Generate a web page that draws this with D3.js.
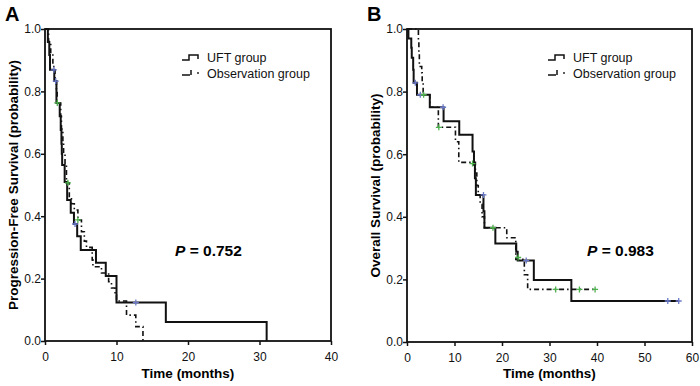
<!DOCTYPE html>
<html>
<head>
<meta charset="utf-8">
<script src="https://cdn.jsdelivr.net/npm/d3@7"></script>
<style>
  body { margin: 0; background: #fff; }
  svg text { font-family: "Liberation Sans", Arial, sans-serif; }
</style>
</head>
<body>
<svg id="chart" width="700" height="386"></svg>
<script>
// step points [time, survival after the step]
var pfsUft = [[0,1],[0.4,0.958],[0.6,0.917],[0.7,0.869],[1.3,0.833],[1.6,0.763],[2.06,0.72],[2.2,0.676],
  [2.3,0.632],[2.35,0.6],[2.4,0.564],[2.75,0.51],[3.1,0.452],[3.6,0.411],[4.05,0.375],[4.5,0.336],
  [5.0,0.292],[7.13,0.251],[8.5,0.208],[10.0,0.123],[16.9,0.061],[31.0,0]];
var pfsObs = [[0,1],[0.5,0.96],[0.8,0.92],[1.1,0.88],[1.4,0.84],[1.6,0.80],[1.7,0.763],[2.2,0.72],
  [2.3,0.68],[2.5,0.64],[2.6,0.6],[2.8,0.56],[3.0,0.507],[3.4,0.46],[3.7,0.44],[4.1,0.42],[4.6,0.388],
  [5.1,0.35],[5.5,0.32],[5.8,0.30],[6.6,0.26],[6.7,0.238],[7.9,0.218],[8.9,0.19],[9.3,0.17],
  [9.8,0.147],[10.0,0.128],[11.4,0.083],[12.7,0.046],[13.7,0]];
var pfsUftCens = [[1.25,0.869],[1.5,0.833],[4.2,0.375],[12.7,0.123]];
var pfsObsCens = [[1.72,0.763],[3.2,0.507],[4.6,0.388]];

var osUft = [[0,1],[0.3,0.97],[0.9,0.94],[1.0,0.908],[1.3,0.87],[1.4,0.828],[2.1,0.79],[4.8,0.75],
  [7.7,0.705],[11.0,0.662],[13.8,0.609],[14.1,0.566],[14.3,0.523],[14.5,0.47],[16.1,0.418],
  [16.3,0.365],[18.6,0.315],[23.0,0.288],[23.3,0.26],[26.7,0.198],[34.6,0.131],[57.2,0.131]];
var osObs = [[0,1],[2.4,0.96],[2.5,0.92],[2.6,0.88],[3.1,0.86],[3.2,0.83],[3.4,0.79],[4.8,0.75],
  [6.6,0.686],[10.2,0.64],[10.9,0.574],[14.4,0.54],[14.7,0.50],[15.0,0.47],[15.4,0.44],[15.8,0.40],
  [16.3,0.365],[21.0,0.333],[22.9,0.264],[24.7,0.215],[25.4,0.168],[39.6,0.168]];
var osUftCens = [[1.75,0.828],[2.8,0.79],[7.6,0.75],[16.1,0.47],[25.1,0.26],[54.9,0.131],[57.2,0.131]];
var osObsCens = [[3.5,0.79],[6.7,0.686],[13.8,0.57],[18.1,0.365],[23.4,0.27],[31.3,0.168],[36.3,0.168],[39.6,0.168]];

var yTicks = [0, 0.2, 0.4, 0.6, 0.8, 1.0];
var legendLabels = ["UFT group", "Observation group"];

var panels = [
  { letter: "A", left: 45, right: 331, top: 29, bottom: 341, xMax: 40, xTicks: [0,10,20,30,40],
    yLabel: "Progression-Free Survival (probability)", pval: "0.752", pX: 175, legX: 182,
    uft: pfsUft, obs: pfsObs, uftC: pfsUftCens, obsC: pfsObsCens },
  { letter: "B", left: 407, right: 692, top: 29, bottom: 342, xMax: 60, xTicks: [0,10,20,30,40,50,60],
    yLabel: "Overall Survival (probability)", pval: "0.983", pX: 587, legX: 548,
    uft: osUft, obs: osObs, uftC: osUftCens, obsC: osObsCens }
];

var svg = d3.select("#chart");

panels.forEach(function(p) {
  var x = d3.scaleLinear().domain([0, p.xMax]).range([p.left, p.right]);
  var y = d3.scaleLinear().domain([0, 1]).range([p.bottom, p.top]);
  var g = svg.append("g");

  // frame
  g.append("rect")
    .attr("x", p.left).attr("y", p.top)
    .attr("width", p.right - p.left).attr("height", p.bottom - p.top)
    .attr("fill", "none").attr("stroke", "#111").attr("stroke-width", 1.8);

  var xAxis = g.append("g").attr("transform", "translate(0," + p.bottom + ")")
    .call(d3.axisBottom(x).tickValues(p.xTicks).tickSize(4).tickFormat(d3.format("d")));
  var yAxis = g.append("g").attr("transform", "translate(" + p.left + ",0)")
    .call(d3.axisLeft(y).tickValues(yTicks).tickSize(4).tickFormat(d3.format(".1f")));
  [xAxis, yAxis].forEach(function(a) {
    a.select(".domain").remove();
    a.selectAll("line").attr("stroke", "#111").attr("stroke-width", 1.5);
    a.selectAll("text").attr("font-size", 12).attr("fill", "#111")
      .attr("font-family", "Liberation Sans, Arial, sans-serif");
  });
  xAxis.selectAll("text").attr("dy", "1.05em");
  yAxis.selectAll("text").attr("x", -4);

  var line = d3.line().curve(d3.curveStepAfter).x(function(d) { return x(d[0]); }).y(function(d) { return y(d[1]); });

  g.append("path").datum(p.obs).attr("d", line)
    .attr("fill", "none").attr("stroke", "#111").attr("stroke-width", 1.6)
    .attr("stroke-dasharray", "5,3,1.5,3");
  g.append("path").datum(p.uft).attr("d", line)
    .attr("fill", "none").attr("stroke", "#111").attr("stroke-width", 2);

  function cens(data, color) {
    var m = g.append("g").selectAll("g").data(data).enter().append("g")
      .attr("transform", function(d) { return "translate(" + x(d[0]) + "," + y(d[1]) + ")"; });
    m.append("path").attr("d", "M-3,0H3M0,-3V3")
      .attr("stroke", color).attr("stroke-width", 1.3);
  }
  cens(p.uftC, "#6a78c8");
  cens(p.obsC, "#4cb04c");

  // panel letter
  svg.append("text").attr("x", p.left - 40).attr("y", 21)
    .attr("font-size", 20).attr("font-weight", "bold").text(p.letter);

  // axis titles
  svg.append("text")
    .attr("transform", "translate(" + (p.left - 27) + "," + ((p.top + p.bottom) / 2) + ") rotate(-90)")
    .attr("text-anchor", "middle").attr("font-size", 13.5).attr("font-weight", "bold")
    .text(p.yLabel);
  svg.append("text").attr("x", (p.left + p.right) / 2).attr("y", 378)
    .attr("text-anchor", "middle").attr("font-size", 13.5).attr("font-weight", "bold")
    .text("Time (months)");

  // p value
  var pt = svg.append("text").attr("x", p.pX).attr("y", 256)
    .attr("font-size", 15.5).attr("font-weight", "bold");
  pt.append("tspan").attr("font-style", "italic").text("P");
  pt.append("tspan").text(" = " + p.pval);

  // legend
  var lg = svg.append("g").attr("transform", "translate(" + p.legX + ",58)");
  lg.append("path").attr("d", "M0,2H7V-3H16V1").attr("fill", "none").attr("stroke", "#111").attr("stroke-width", 1.5);
  lg.append("path").attr("d", "M0,17H8M9,12V17").attr("fill", "none").attr("stroke", "#111").attr("stroke-width", 1.5);
  lg.append("circle").attr("cx", 16).attr("cy", 15).attr("r", 0.9).attr("fill", "#111");
  lg.selectAll("text.leg").data(legendLabels).enter().append("text").attr("class", "leg")
    .attr("x", 25).attr("y", function(d, i) { return 4 + i * 16; })
    .attr("font-size", 12.5).attr("fill", "#111").text(function(d) { return d; });
});
</script>
</body>
</html>
